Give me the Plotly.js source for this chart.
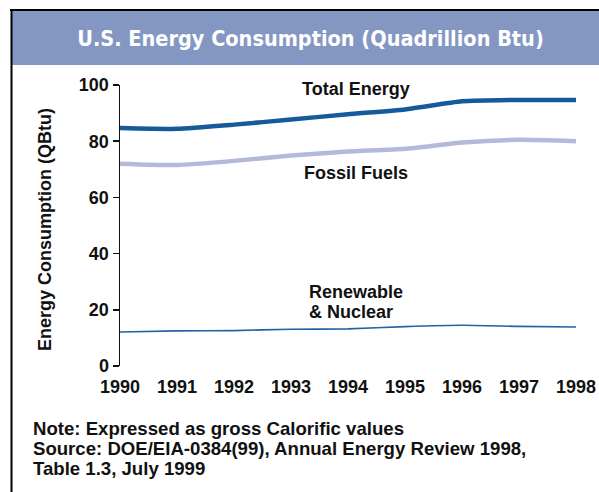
<!DOCTYPE html>
<html>
<head>
<meta charset="utf-8">
<script src="https://cdn.plot.ly/plotly-3.0.1.min.js"></script>
<style>html,body{margin:0;padding:0;background:#fff;}#chart{width:599px;height:492px;}</style>
</head>
<body>
<div id="chart"></div>
<script>
// ---- data ----
const years = [1990, 1991, 1992, 1993, 1994, 1995, 1996, 1997, 1998];
const totalEnergy = [84.7, 84.4, 85.9, 87.7, 89.6, 91.3, 94.2, 94.7, 94.7];
const fossilFuels = [72.0, 71.5, 73.0, 74.9, 76.3, 77.3, 79.5, 80.5, 80.0];
const renewableNuclear = [12.1, 12.5, 12.6, 13.1, 13.2, 14.0, 14.5, 14.1, 13.9];
const yTicks = [0, 20, 40, 60, 80, 100];
const titleText = "U.S. Energy Consumption (Quadrillion Btu)";
const yTitleText = "Energy Consumption (QBtu)";
const seriesLabels = ["Total Energy", "Fossil Fuels", "Renewable", "& Nuclear"];
const noteLines = [
  "Note: Expressed as gross Calorific values",
  "Source: DOE/EIA-0384(99), Annual Energy Review 1998,",
  "Table 1.3, July 1999"
];

// ---- layout helpers ----
const L = 120, T = 85, W = 456, H = 281, FW = 599, FH = 492;
const fx = px => (px - L) / W;
const fy = py => 1 - (py - T) / H;
const FONT = "'Liberation Sans', Arial, Helvetica, sans-serif";
const bold = (size, color) => ({family: FONT, size: size, color: color || '#111', weight: 'bold'});

const traces = [
  {x: years, y: fossilFuels, mode: 'lines', line: {color: '#b3b9da', width: 4.5, shape: 'spline', smoothing: 0.5}, hoverinfo: 'none'},
  {x: years, y: totalEnergy, mode: 'lines', line: {color: '#175a9c', width: 4.5, shape: 'spline', smoothing: 0.5}, hoverinfo: 'none'},
  {x: years, y: renewableNuclear, mode: 'lines', line: {color: '#2262a6', width: 1.6, shape: 'spline', smoothing: 0.5}, hoverinfo: 'none'}
];

const ann = (text, px, py, opts) => Object.assign({
  text: text, xref: 'paper', yref: 'paper', x: fx(px), y: fy(py),
  xanchor: 'left', yanchor: 'middle', showarrow: false, font: bold(18)
}, opts || {});

const layout = {
  width: FW, height: FH,
  margin: {l: L, r: FW - L - W, t: T, b: FH - T - H, pad: 0},
  paper_bgcolor: '#ffffff', plot_bgcolor: '#ffffff',
  showlegend: false,
  title: {
    text: titleText, xref: 'container', yref: 'container',
    x: 310.5 / FW, y: 1 - 38.5 / FH, xanchor: 'center', yanchor: 'middle',
    font: {family: "'DejaVu Sans Condensed', 'Liberation Sans Narrow', 'Arial Narrow', sans-serif", size: 21.5, color: '#ffffff', weight: 'bold'}
  },
  xaxis: {
    range: [1990, 1998], tickvals: years, ticktext: years.map(String),
    ticks: '', ticklabelstandoff: 8, showline: false, showgrid: false, zeroline: false,
    tickfont: bold(18), fixedrange: true
  },
  yaxis: {
    range: [0, 100], tickvals: yTicks, ticks: 'outside', ticklen: 6, tickwidth: 1.5, tickcolor: '#111',
    showline: true, linecolor: '#111', linewidth: 1.5, showgrid: false, zeroline: false,
    tickfont: bold(18), fixedrange: true
  },
  shapes: [
    {type: 'rect', xref: 'paper', yref: 'paper', x0: fx(12), x1: fx(610), y0: fy(65), y1: fy(10.5), fillcolor: '#8497c3', line: {width: 0}, layer: 'below'},
    {type: 'line', xref: 'paper', yref: 'paper', x0: fx(10), x1: fx(610), y0: fy(10), y1: fy(10), line: {color: '#000', width: 2}},
    {type: 'line', xref: 'paper', yref: 'paper', x0: fx(11.5), x1: fx(11.5), y0: fy(9), y1: fy(500), line: {color: '#000', width: 2}}
  ],
  annotations: [
    ann(seriesLabels[0], 300, 89),
    ann(seriesLabels[1], 302, 173),
    ann(seriesLabels[2], 307, 292),
    ann(seriesLabels[3], 307, 312),
    ann(yTitleText, 45, 230, {xanchor: 'center', textangle: -90}),
    ann(noteLines[0], 31, 428, {font: bold(18.6)}),
    ann(noteLines[1], 31, 448, {font: bold(18.6)}),
    ann(noteLines[2], 31, 468, {font: bold(18.6)})
  ]
};

Plotly.newPlot('chart', traces, layout, {displayModeBar: false, staticPlot: true});
</script>
</body>
</html>
